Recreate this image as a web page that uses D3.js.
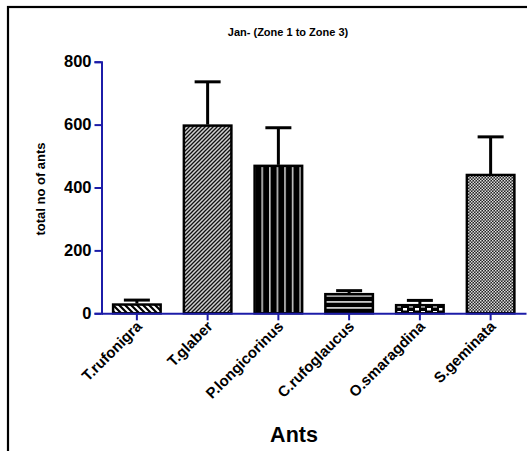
<!DOCTYPE html>
<html>
<head>
<meta charset="utf-8">
<script src="https://cdn.jsdelivr.net/npm/d3@7"></script>
<style>
  html, body { margin: 0; padding: 0; background: #fff; }
  svg { display: block; }
  .lbl { font-family: Arial, "Liberation Sans", sans-serif; font-weight: bold; fill: #000; }
</style>
</head>
<body>
<svg id="chart" width="527" height="451"></svg>
<script>
// Ant counts for January, Zones 1-3 (mean with upper error)
const species = ["T.rufonigra", "T.glaber", "P.longicorinus", "C.rufoglaucus", "O.smaragdina", "S.geminata"];
const meanCount = [31, 600, 472, 64, 29, 443];
const errorUp = [11, 136, 118, 8, 12, 118];
const yTicks = [0, 200, 400, 600, 800];
const patternIds = ["hatchBack", "hatchFwd", "vStripe", "hStripe", "checkBig", "checkFine"];

const svg = d3.select("#chart");
const axisBlue = "#1c1ca8";

// fill patterns
const defs = svg.append("defs");
{
  let p = defs.append("pattern").attr("id", "hatchBack").attr("patternUnits", "userSpaceOnUse")
    .attr("width", 6).attr("height", 6);
  p.append("rect").attr("width", 6).attr("height", 6).attr("fill", "#fff");
  p.append("path").attr("d", "M-1,-1 L7,7 M-4,2 L2,8 M4,-2 L10,4").attr("stroke", "#000").attr("stroke-width", 2.2);

  p = defs.append("pattern").attr("id", "hatchFwd").attr("patternUnits", "userSpaceOnUse")
    .attr("width", 4).attr("height", 4);
  p.append("rect").attr("width", 4).attr("height", 4).attr("fill", "#d0d0d0");
  p.append("path").attr("d", "M-1,5 L5,-1 M-3,3 L3,-3 M1,7 L7,1").attr("stroke", "#111").attr("stroke-width", 1.3);

  p = defs.append("pattern").attr("id", "vStripe").attr("patternUnits", "userSpaceOnUse")
    .attr("width", 7.6).attr("height", 10).attr("x", 3);
  p.append("rect").attr("width", 7.6).attr("height", 10).attr("fill", "#000");
  p.append("rect").attr("x", 0).attr("width", 1.6).attr("height", 10).attr("fill", "#c8c8c8");

  p = defs.append("pattern").attr("id", "hStripe").attr("patternUnits", "userSpaceOnUse")
    .attr("width", 10).attr("height", 6).attr("y", 1);
  p.append("rect").attr("width", 10).attr("height", 6).attr("fill", "#000");
  p.append("rect").attr("y", 0).attr("width", 10).attr("height", 1.8).attr("fill", "#c8c8c8");

  p = defs.append("pattern").attr("id", "checkBig").attr("patternUnits", "userSpaceOnUse")
    .attr("width", 12).attr("height", 6).attr("y", 2);
  p.append("rect").attr("width", 12).attr("height", 6).attr("fill", "#000");
  p.append("rect").attr("x", 1).attr("y", 3).attr("width", 4).attr("height", 2.5).attr("fill", "#fff");
  p.append("rect").attr("x", 7).attr("y", 0).attr("width", 4).attr("height", 2.5).attr("fill", "#fff");

  p = defs.append("pattern").attr("id", "checkFine").attr("patternUnits", "userSpaceOnUse")
    .attr("width", 3).attr("height", 3);
  p.append("rect").attr("width", 3).attr("height", 3).attr("fill", "#222");
  p.append("rect").attr("width", 1.5).attr("height", 1.5).attr("fill", "#ddd");
  p.append("rect").attr("x", 1.5).attr("y", 1.5).attr("width", 1.5).attr("height", 1.5).attr("fill", "#ddd");
}

// outer frame
svg.append("rect").attr("x", 8).attr("y", 7).attr("width", 540).attr("height", 470)
  .attr("fill", "none").attr("stroke", "#000").attr("stroke-width", 2.2);

const x0 = 101.5, x1 = 526, yBase = 313.3, yTop = 61.7;

const x = d3.scaleBand().domain(species).range([x0, x1]).paddingInner(0.3).paddingOuter(0.15);
const y = d3.scaleLinear().domain([0, 800]).range([yBase, yTop]);

const data = species.map((s, i) => ({ s, m: meanCount[i], e: errorUp[i], pat: patternIds[i] }));

// error bars (upper only)
const eb = svg.append("g").attr("stroke", "#000").attr("stroke-width", 3).attr("fill", "none");
data.forEach(d => {
  const cx = x(d.s) + x.bandwidth() / 2;
  eb.append("line").attr("x1", cx).attr("x2", cx).attr("y1", y(d.m)).attr("y2", y(d.m + d.e));
  eb.append("line").attr("x1", cx - 13).attr("x2", cx + 13).attr("y1", y(d.m + d.e)).attr("y2", y(d.m + d.e));
});

// bars
svg.append("g").selectAll("rect").data(data).join("rect")
  .attr("x", d => x(d.s) + 1)
  .attr("width", x.bandwidth() - 2)
  .attr("y", d => y(d.m) + 1)
  .attr("height", d => yBase - y(d.m) - 1)
  .attr("fill", d => `url(#${d.pat})`)
  .attr("stroke", "#000").attr("stroke-width", 2.5);

// y axis
const yAxis = svg.append("g").attr("transform", `translate(${x0},0)`)
  .call(d3.axisLeft(y).tickValues(yTicks).tickSize(7).tickPadding(3).tickFormat(d3.format("d")));
yAxis.select(".domain").attr("stroke", axisBlue).attr("stroke-width", 2);
yAxis.selectAll(".tick line").attr("stroke", axisBlue).attr("stroke-width", 2);
yAxis.selectAll(".tick text").attr("class", "lbl").style("font-size", "16.5px");

// x axis (ticks only; labels drawn slanted below)
const xAxis = svg.append("g").attr("transform", `translate(0,${yBase})`)
  .call(d3.axisBottom(x).tickSize(7).tickSizeOuter(0).tickFormat(""));
xAxis.select(".domain").attr("stroke", axisBlue).attr("stroke-width", 2);
xAxis.selectAll(".tick line").attr("stroke", axisBlue).attr("stroke-width", 2);

// slanted category labels, each ending just below its tick
svg.append("g").selectAll("text").data(species).join("text")
  .attr("class", "lbl")
  .attr("text-anchor", "end")
  .attr("transform", d => `translate(${x(d) + x.bandwidth() / 2 + 6},${yBase + 14}) rotate(-45)`)
  .style("font-size", "15px")
  .text(d => d);

// titles
svg.append("text").attr("class", "lbl").attr("x", 288).attr("y", 36).attr("text-anchor", "middle")
  .style("font-size", "11px").text("Jan- (Zone 1 to Zone 3)");
svg.append("text").attr("class", "lbl").attr("transform", "translate(45,189) rotate(-90)").attr("text-anchor", "middle")
  .style("font-size", "13px").text("total no of ants");
svg.append("text").attr("class", "lbl").attr("x", 294).attr("y", 442).attr("text-anchor", "middle")
  .style("font-size", "21.5px").text("Ants");
</script>
</body>
</html>
